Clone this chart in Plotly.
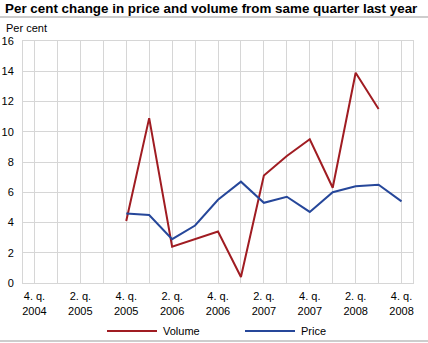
import plotly.graph_objects as go

quarters = ["4. q. 2004", "1. q. 2005", "2. q. 2005", "3. q. 2005", "4. q. 2005",
            "1. q. 2006", "2. q. 2006", "3. q. 2006", "4. q. 2006",
            "1. q. 2007", "2. q. 2007", "3. q. 2007", "4. q. 2007",
            "1. q. 2008", "2. q. 2008", "3. q. 2008", "4. q. 2008"]
volume = [None, None, None, None, 4.1, 10.9, 2.4, 2.9, 3.4, 0.4, 7.1, 8.4, 9.5, 6.3, 13.9, 11.5, None]
price = [None, None, None, None, 4.6, 4.5, 2.9, 3.8, 5.5, 6.7, 5.3, 5.7, 4.7, 6.0, 6.4, 6.5, 5.4]
tick_labels = ["4. q.<br>2004", "", "2. q.<br>2005", "", "4. q.<br>2005", "", "2. q.<br>2006", "",
               "4. q.<br>2006", "", "2. q.<br>2007", "", "4. q.<br>2007", "", "2. q.<br>2008", "",
               "4. q.<br>2008"]
y_ticks = [0, 2, 4, 6, 8, 10, 12, 14, 16]
series_names = ["Volume", "Price"]
series_colors = ["#a01c22", "#26479a"]

W, H = 428, 343
L, R, T, B = 23, 15, 41, 60
PW, PH = W - L - R, H - T - B
FONT = "Liberation Sans, Arial, sans-serif"
GRID = "#d6d6d6"


def px_x(x):
    return (x - L) / PW


def px_y(y):
    return 1 - (y - T) / PH


xs = list(range(len(quarters)))
fig = go.Figure()
for name, vals, col in zip(series_names, [volume, price], series_colors):
    fig.add_trace(go.Scatter(x=xs, y=vals, name=name, mode="lines",
                             line=dict(color=col, width=2), connectgaps=False))

fig.update_layout(
    width=W, height=H,
    margin=dict(l=L, r=R, t=T, b=B, autoexpand=False),
    paper_bgcolor="white", plot_bgcolor="white",
    font=dict(family=FONT, size=11, color="#000000"),
    showlegend=False,
    xaxis=dict(range=[-0.5, 16.5], tickmode="array", tickvals=xs, ticktext=tick_labels,
               showgrid=True, gridcolor=GRID, gridwidth=1,
               showline=True, linecolor=GRID, mirror=True, linewidth=1,
               ticks="", tickangle=0, zeroline=False, fixedrange=True,
               ticklabelstandoff=3),
    yaxis=dict(range=[0, 16], tickmode="array", tickvals=y_ticks,
               showgrid=True, gridcolor=GRID, gridwidth=1,
               showline=True, linecolor=GRID, mirror=True, linewidth=1,
               ticks="", zeroline=False, fixedrange=True, ticklabelstandoff=6),
)

fig.add_annotation(text="<b>Per cent change in price and volume from same quarter last year</b>",
                   xref="paper", yref="paper", x=px_x(3), xanchor="left",
                   y=px_y(8), yanchor="middle", showarrow=False,
                   font=dict(family=FONT, size=13.4, color="#000000"))
fig.add_annotation(text="Per cent", xref="paper", yref="paper",
                   x=px_x(4), xanchor="left",
                   y=px_y(28), yanchor="middle", showarrow=False,
                   font=dict(family=FONT, size=11, color="#000000"))
# divider lines under title and at bottom
for yp in [17, 341]:
    fig.add_shape(type="line", xref="paper", yref="paper",
                  x0=px_x(0), x1=px_x(W), y0=px_y(yp), y1=px_y(yp),
                  line=dict(color="#bdbdbd", width=1.5))

# legend (manual, to match long line swatches)
leg_x = [107, 245]
for x0, name, col in zip(leg_x, series_names, series_colors):
    fig.add_shape(type="line", xref="paper", yref="paper",
                  x0=px_x(x0), x1=px_x(x0 + 50), y0=px_y(331), y1=px_y(331),
                  line=dict(color=col, width=2))
    fig.add_annotation(text=name, xref="paper", yref="paper",
                       x=px_x(x0 + 54), xanchor="left", y=px_y(331), yanchor="middle",
                       showarrow=False, font=dict(family=FONT, size=11, color="#000000"))

fig.write_html("out.html")
